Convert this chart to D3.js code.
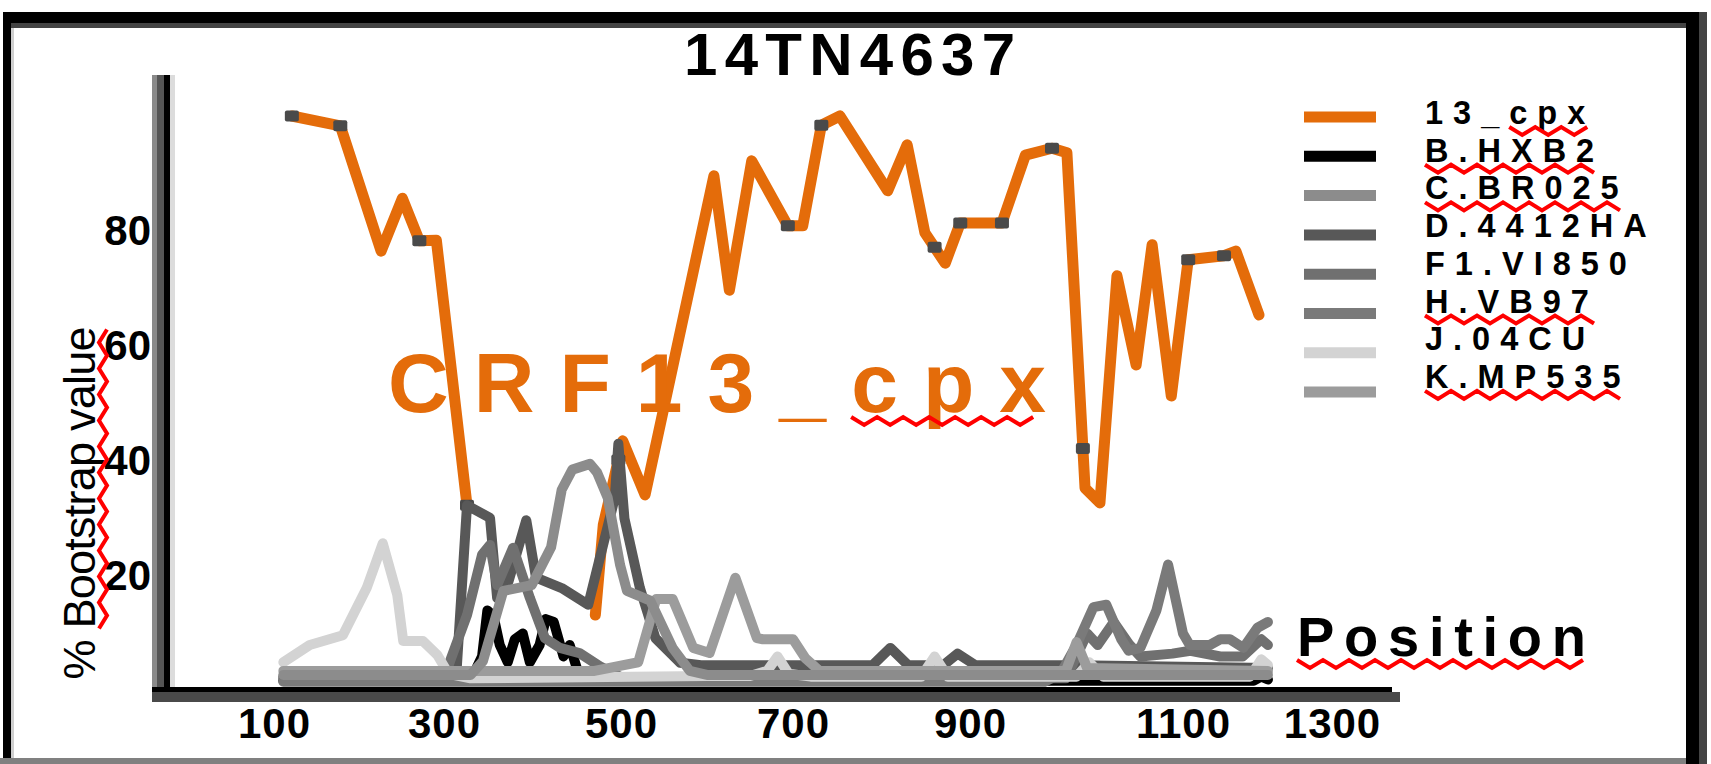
<!DOCTYPE html>
<html><head><meta charset="utf-8">
<script src="https://cdn.jsdelivr.net/npm/d3@7"></script>
<style>
html,body{margin:0;padding:0;background:#fff;}
svg{display:block;}
text{font-family:"Liberation Sans","Arial",sans-serif;}
</style></head>
<body>
<svg id="c" width="1711" height="764"></svg>
<script>
// ---------- data ----------
const chartTitle = "14TN4637";
const overlayLabel = "CRF13_cpx";
const xAxisLabel = "Position";
const yAxisLabel = "% Bootstrap value";
const seriesNames = ["13_cpx","B.HXB2","C.BR025","D.4412HA","F1.VI850","H.VB97","J.04CU","K.MP535"];
const seriesColors = ["#E46C0A","#000000","#8c8c8c","#585858","#707070","#7a7a7a","#d3d3d3","#9c9c9c"];
const xTicks = [100,300,500,700,900,1100,1300];
const yTicks = [20,40,60,80];

// 13_cpx (null = hidden under the other curves)
const pos13 = [121,178,226,251,271,291,326,400,471,480,502,528,608,626,652,694,711,732,753,807,829,849,872,889,930,952,977,991,1008,1022,1038,1056,1071,1089,1107,1155,1171,1202];
const val13 = [100,98.3,76.5,85.7,78.3,78.4,32.3,null,13.2,28.9,43.5,34.1,89.6,69.7,92.2,80.9,80.9,98.4,100,87,95,79.7,74.4,81.4,81.4,93.2,94.4,93.6,35.3,32.7,72.2,56.7,77.6,51.3,75,75.7,76.5,65.4];
// dark vertex marks seen on the 13_cpx curve
const markPos13 = [121,178,271,326,497,694,732,860,889,930,977,1006,1107,1155];

const posB = [111,330,343,349,356,363,372,380,389,397,408,415,424,435,442,450,460,1195,1205,1214];
const valB = [1.8,1.8,6,14,13,8,5,9,10,5,8,12.5,12,6,8,4,1.8,1.8,2.5,2];

const posC = [111,330,344,367,399,421,433,445,465,473,485,499,507,534,560,580,600,1214];
const valC = [2.8,2.8,5.2,17.4,18.4,25,35,38.5,39.5,38,33.6,21.9,17.4,15.7,7.5,3.5,2.8,2.8];

const posD = [111,300,314,326,352,360,373,393,404,433,463,493,497,504,522,540,569,593,790,810,830,870,886,905,1000,1214];
const valD = [2.5,2.5,3,32.3,30.1,16.2,19.1,29.7,19.7,17.9,15,33.6,43,30,17.9,9.2,4.9,4.5,4.5,7.5,4.5,4.5,6.5,4.5,4.5,4];

const posF1 = [111,300,308,326,343,352,360,378,397,414,431,453,476,499,990,1000,1010,1020,1035,1050,1060,1090,1110,1150,1180,1205,1214];
const valF1 = [2.2,2.2,5.7,13.2,23.7,25.4,18.4,24.9,16.2,9.2,7.5,6.6,4.3,2.5,2.2,6,10,8,12,8,6,6.5,7,6,6,9,8];

const posH = [111,970,985,1000,1016,1028,1042,1049,1060,1075,1086,1100,1109,1136,1150,1163,1181,1200,1214];
const valH = [1.6,1.6,3,8,14.6,15,9,7,7.5,14,22,10,8,8,9,9,7.5,11,12];

const posJ = [111,142,181,209,228,245,252,275,292,305,330,600,650,670,682,695,720,845,860,875,1000,1012,1025,1190,1205,1214];
const valJ = [5,8,9.7,17.9,25.7,16.7,8.7,8.7,6.3,3,2.2,2.6,2.6,3.5,6,3,2.5,2.5,6,2.5,2.5,5,2.5,2.5,5.5,4.5];

const posK = [111,470,520,541,560,584,603,633,658,665,700,714,730,990,1000,1010,1214];
const valK = [3.5,3.5,5,16,16,7.5,6.6,19.7,9.2,9,9,5.7,3.5,3.5,8.5,4,3.5];

// ---------- layout ----------
const svg = d3.select("#c");
const xTickPx = [274,444,621,793,970,1183,1332]; // axis calibration of the position scale
const x = d3.scaleLinear().domain(xTicks).range(xTickPx);
const y = d3.scaleLinear().domain([0,100]).range([691,116]);

svg.append("rect").attr("width",1711).attr("height",764).attr("fill","#fff");

// frame
const frame = svg.append("g");
frame.append("rect").attr("x",3).attr("y",12).attr("width",1699).attr("height",11).attr("fill","#000");
frame.append("rect").attr("x",3).attr("y",23).attr("width",1696).attr("height",5).attr("fill","#444");
frame.append("rect").attr("x",3).attr("y",12).attr("width",8).attr("height",746).attr("fill","#000");
frame.append("rect").attr("x",11).attr("y",28).attr("width",3).attr("height",730).attr("fill","#cfcfcf");
frame.append("rect").attr("x",1686).attr("y",12).attr("width",13).attr("height",752).attr("fill","#000");
frame.append("rect").attr("x",1699).attr("y",12).attr("width",8).attr("height",752).attr("fill","#444");
frame.append("rect").attr("x",0).attr("y",758).attr("width",1686).attr("height",6).attr("fill","#808080");

// title
svg.append("text").attr("x",684).attr("y",75).attr("font-size",60).attr("font-weight","bold")
  .attr("textLength",331).attr("lengthAdjust","spacing").attr("fill","#000").text(chartTitle);

// series
const series = [
  {pos:pos13,val:val13},{pos:posB,val:valB},{pos:posC,val:valC},{pos:posD,val:valD},
  {pos:posF1,val:valF1},{pos:posH,val:valH},{pos:posJ,val:valJ},{pos:posK,val:valK}
].map((s,i)=>({name:seriesNames[i],color:seriesColors[i],pts:s.pos.map((p,j)=>[p,s.val[j]])}));

const line = d3.line().defined(d=>d[1]!=null).x(d=>x(d[0])).y(d=>y(d[1]));
const plot = svg.append("g");
function drawSeries(i){
  plot.append("path").attr("d",line(series[i].pts)).attr("fill","none")
    .attr("stroke",series[i].color).attr("stroke-width",i===0?11:10)
    .attr("stroke-linejoin","round").attr("stroke-linecap","round");
}
drawSeries(0);
// marks on 13_cpx
function interp13(p){
  for(let j=0;j<pos13.length-1;j++){
    if(p>=pos13[j]&&p<=pos13[j+1]&&val13[j]!=null&&val13[j+1]!=null){
      const t=(p-pos13[j])/(pos13[j+1]-pos13[j]);return val13[j]+t*(val13[j+1]-val13[j]);
    }
  }
  return null;
}
markPos13.forEach(p=>{
  const v=interp13(p); if(v==null) return;
  plot.append("rect").attr("x",x(p)-7).attr("y",y(v)-5.5).attr("width",14).attr("height",11)
    .attr("rx",2).attr("fill","#4a4a4a");
});
[1,3,4,5,6,7,2].forEach(drawSeries);

// axes
const axG = svg.append("g");
axG.append("rect").attr("x",152).attr("y",75).attr("width",5).attr("height",627).attr("fill","#8a8a8a");
axG.append("rect").attr("x",157).attr("y",75).attr("width",7).attr("height",627).attr("fill","#555");
axG.append("rect").attr("x",164).attr("y",75).attr("width",6).attr("height",617).attr("fill","#000");
axG.append("rect").attr("x",170).attr("y",75).attr("width",5).attr("height",612).attr("fill","#dcdcdc");
axG.append("rect").attr("x",152).attr("y",687).attr("width",1240).attr("height",5).attr("fill","#000");
axG.append("rect").attr("x",152).attr("y",692).attr("width",1248).attr("height",10).attr("fill","#4a4a4a");

const yAxis = svg.append("g").attr("transform","translate(151,0)")
  .call(d3.axisLeft(y).tickValues(yTicks).tickSize(0).tickPadding(0));
yAxis.select(".domain").remove();
yAxis.selectAll("text").attr("font-size",42).attr("font-weight","bold").attr("fill","#000")
  .attr("font-family","Liberation Sans, Arial, sans-serif");

const xAxis = svg.append("g")
  .call(d3.axisBottom(x).tickValues(xTicks).tickSize(0).tickFormat(d3.format("d")));
xAxis.select(".domain").remove();
xAxis.selectAll("text").attr("y",738).attr("dy",0).attr("font-size",42).attr("font-weight","bold")
  .attr("fill","#000").attr("letter-spacing",1).attr("font-family","Liberation Sans, Arial, sans-serif");

// squiggle helper (spell-check marks)
function squiggle(parent,x0,x1,yc){
  const pts=[];let k=0;
  for(let xx=x0;xx<=x1+0.1;xx+=13,k++) pts.push([xx,yc+(k%2?4:-4)]);
  parent.append("path").attr("d",d3.line()(pts)).attr("fill","none")
    .attr("stroke","#ff0000").attr("stroke-width",4);
}
function squiggleChars(parent,node,i0,i1,yc){
  const a=node.getExtentOfChar(i0),b=node.getExtentOfChar(i1);
  squiggle(parent,a.x,b.x+b.width,yc);
}

// y label
const yl = svg.append("g").attr("transform","translate(95,503) rotate(-90)");
const ylt = yl.append("text").attr("text-anchor","middle").attr("font-size",45)
  .attr("textLength",353).attr("lengthAdjust","spacing").attr("fill","#000").text(yAxisLabel);
squiggleChars(yl,ylt.node(),2,yAxisLabel.length-1,8);

// big overlay label
const ol = svg.append("text").attr("x",388).attr("y",412).attr("font-size",84).attr("font-weight","bold")
  .attr("font-family","DejaVu Sans, sans-serif")
  .attr("textLength",658).attr("lengthAdjust","spacing").attr("fill","#E46C0A").text(overlayLabel);
squiggleChars(svg,ol.node(),6,8,421);

// x label
const xl = svg.append("text").attr("x",1297).attr("y",656).attr("font-size",56).attr("font-weight","bold")
  .attr("font-family","DejaVu Sans, sans-serif")
  .attr("textLength",289).attr("lengthAdjust","spacing").attr("fill","#000").text(xAxisLabel);
squiggleChars(svg,xl.node(),0,xAxisLabel.length-1,664);

// legend
const lg = svg.append("g");
const squiggleLegend = {0:[3,5],1:[0,5],2:[0,6],5:[0,5],7:[0,6]};
seriesNames.forEach((n,i)=>{
  const ly = 117 + i*39.3, ty = 124 + i*37.7;
  lg.append("line").attr("x1",1304).attr("x2",1376).attr("y1",ly).attr("y2",ly)
    .attr("stroke",seriesColors[i]).attr("stroke-width",11);
  const t = lg.append("text").attr("x",1425).attr("y",ty).attr("font-size",32.5).attr("font-weight","bold")
    .attr("letter-spacing",10).attr("fill","#000").text(n);
  if(squiggleLegend[i]) squiggleChars(lg,t.node(),squiggleLegend[i][0],squiggleLegend[i][1],ty+7);
});
</script>
</body></html>
